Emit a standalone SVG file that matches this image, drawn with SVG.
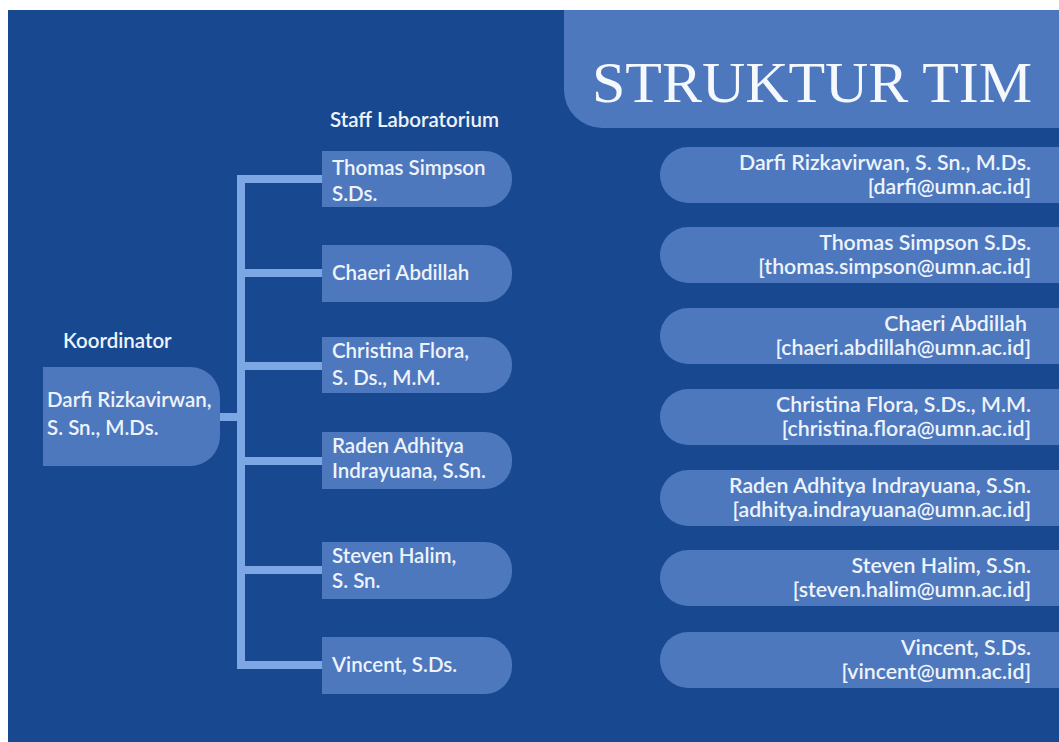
<svg xmlns="http://www.w3.org/2000/svg" width="1059" height="742" viewBox="0 0 1059 742">
<style>
.bg{fill:#18488f}
.pill{fill:#4d78be}
.t{font-family:Lato,"Open Sans",sans-serif;fill:#eef3fb;font-size:20.5px;font-weight:600}
.r{font-family:Lato,"Open Sans",sans-serif;fill:#eef3fb;font-size:21.3px;font-weight:600;text-anchor:end}
.title{font-family:"Liberation Serif","Times New Roman",serif;fill:#f5f8fd;font-size:56px}
.conn{stroke:#7da7e4;stroke-width:8;fill:none}
</style>
<rect x="0" y="0" width="1059" height="742" fill="#ffffff"/>
<rect class="bg" x="8" y="10" width="1051" height="732"/>
<g id="title">
<path class="pill" d="M564 10 H1059 V128 H602 A38 38 0 0 1 564 90 Z"/>
<text class="title" x="592" y="102" textLength="440" lengthAdjust="spacingAndGlyphs">STRUKTUR TIM</text>
</g>
<text class="t" x="330" y="127">Staff Laboratorium</text>
<text class="t" x="63" y="348">Koordinator</text>
<g id="connectors">
<path class="conn" d="M220 417 H241"/>
<path class="conn" d="M322 179 H241 V665 H322"/>
<path class="conn" d="M241 273 H322 M241 366 H322 M241 461 H322 M241 570 H322"/>
</g>
<g id="koordinator">
<path class="pill" d="M43 367 H190 A30 30 0 0 1 220 397 V436 A30 30 0 0 1 190 466 H43 Z"/>
<text class="t" x="47" y="407">Darfi Rizkavirwan,</text>
<text class="t" x="47" y="435">S. Sn., M.Ds.</text>
</g>
<g id="staff-thomas">
<path class="pill" d="M322 151 H485 A27 27 0 0 1 512 178 V180 A27 27 0 0 1 485 207 H322 Z"/>
<text class="t" x="332" y="175">Thomas Simpson</text>
<text class="t" x="332" y="201">S.Ds.</text>
</g>
<g id="staff-chaeri">
<path class="pill" d="M322 245 H485 A27 27 0 0 1 512 272 V275 A27 27 0 0 1 485 302 H322 Z"/>
<text class="t" x="332" y="280">Chaeri Abdillah</text>
</g>
<g id="staff-christina">
<path class="pill" d="M322 337 H485 A27 27 0 0 1 512 364 V366 A27 27 0 0 1 485 393 H322 Z"/>
<text class="t" x="332" y="358">Christina Flora,</text>
<text class="t" x="332" y="385">S. Ds., M.M.</text>
</g>
<g id="staff-raden">
<path class="pill" d="M322 432 H485 A27 27 0 0 1 512 459 V462 A27 27 0 0 1 485 489 H322 Z"/>
<text class="t" x="332" y="453">Raden Adhitya</text>
<text class="t" x="332" y="478">Indrayuana, S.Sn.</text>
</g>
<g id="staff-steven">
<path class="pill" d="M322 542 H485 A27 27 0 0 1 512 569 V572 A27 27 0 0 1 485 599 H322 Z"/>
<text class="t" x="332" y="563">Steven Halim,</text>
<text class="t" x="332" y="588">S. Sn.</text>
</g>
<g id="staff-vincent">
<path class="pill" d="M322 637 H485 A27 27 0 0 1 512 664 V667 A27 27 0 0 1 485 694 H322 Z"/>
<text class="t" x="332" y="672">Vincent, S.Ds.</text>
</g>
<g id="contact-darfi">
<path class="pill" d="M688 147 H1059 V203 H688 A28 28 0 0 1 688 147 Z"/>
<text class="r" x="1031" y="170">Darfi Rizkavirwan, S. Sn., M.Ds.</text>
<text class="r" x="1031" y="194">[darfi@umn.ac.id]</text>
</g>
<g id="contact-thomas">
<path class="pill" d="M688 227 H1059 V283 H688 A28 28 0 0 1 688 227 Z"/>
<text class="r" x="1031" y="250">Thomas Simpson S.Ds.</text>
<text class="r" x="1031" y="274">[thomas.simpson@umn.ac.id]</text>
</g>
<g id="contact-chaeri">
<path class="pill" d="M688 308 H1059 V364 H688 A28 28 0 0 1 688 308 Z"/>
<text class="r" x="1027" y="331">Chaeri Abdillah</text>
<text class="r" x="1031" y="355">[chaeri.abdillah@umn.ac.id]</text>
</g>
<g id="contact-christina">
<path class="pill" d="M688 389 H1059 V445 H688 A28 28 0 0 1 688 389 Z"/>
<text class="r" x="1031" y="412">Christina Flora, S.Ds., M.M.</text>
<text class="r" x="1031" y="436">[christina.flora@umn.ac.id]</text>
</g>
<g id="contact-raden">
<path class="pill" d="M688 470 H1059 V526 H688 A28 28 0 0 1 688 470 Z"/>
<text class="r" x="1031" y="493">Raden Adhitya Indrayuana, S.Sn.</text>
<text class="r" x="1031" y="517">[adhitya.indrayuana@umn.ac.id]</text>
</g>
<g id="contact-steven">
<path class="pill" d="M688 550 H1059 V606 H688 A28 28 0 0 1 688 550 Z"/>
<text class="r" x="1031" y="573">Steven Halim, S.Sn.</text>
<text class="r" x="1031" y="597">[steven.halim@umn.ac.id]</text>
</g>
<g id="contact-vincent">
<path class="pill" d="M688 632 H1059 V688 H688 A28 28 0 0 1 688 632 Z"/>
<text class="r" x="1031" y="655">Vincent, S.Ds.</text>
<text class="r" x="1031" y="679">[vincent@umn.ac.id]</text>
</g>
</svg>
